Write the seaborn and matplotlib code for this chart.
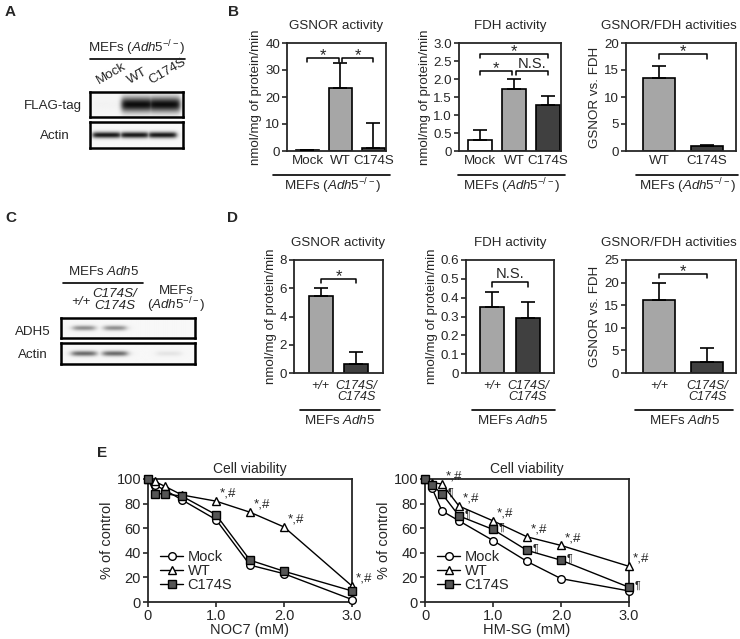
import numpy as np
import matplotlib
matplotlib.use("Agg")
import matplotlib.pyplot as plt
import seaborn as sns
from matplotlib.lines import Line2D

# ---------------- data ----------------
b_groups = ["Mock", "WT", "C174S"]
b_gsnor = [0.3, 23.5, 1.0]
b_gsnor_sd = [0.2, 9.0, 9.3]
b_fdh = [0.3, 1.73, 1.28]
b_fdh_sd = [0.27, 0.27, 0.24]
b_ratio_groups = ["WT", "C174S"]
b_ratio = [13.6, 1.0]
b_ratio_sd = [2.2, 0.1]

d_groups = ["+/+", "C174S/\nC174S"]
d_gsnor = [5.45, 0.65]
d_gsnor_sd = [0.55, 0.85]
d_fdh = [0.35, 0.29]
d_fdh_sd = [0.08, 0.085]
d_ratio = [16.1, 2.5]
d_ratio_sd = [3.9, 3.0]

e_dose = [0, 0.1, 0.25, 0.5, 1.0, 1.5, 2.0, 3.0]
noc7_mock = [100, 95, 91, 83, 67, 30, 23, 2]
noc7_wt = [100, 98, 94, 87, 82, 73, 61, 13]
noc7_c174s = [100, 88, 88, 86, 71, 34, 25, 9]
noc7_wt_sig = ["", "", "", "", "*,#", "*,#", "*,#", "*,#"]
noc7_c174s_sig = ["", "", "", "", "", "", "", ""]
hmsg_mock = [100, 93, 74, 66, 50, 33, 19, 9]
hmsg_wt = [100, 97, 96, 78, 66, 53, 46, 29]
hmsg_c174s = [100, 95, 88, 70, 59, 42, 34, 12]
hmsg_wt_sig = ["", "", "*,#", "*,#", "*,#", "*,#", "*,#", "*,#"]
hmsg_c174s_sig = ["", "", "¶", "¶", "¶", "¶", "¶", "¶"]

# western blot band intensities per lane
blot_a_flag = [0.02, 1.0, 1.0]
blot_a_actin = [0.95, 0.95, 0.95]
blot_c_adh5 = [0.45, 0.45, 0.0]
blot_c_actin = [0.6, 0.6, 0.08]

colors = {"Mock": "white", "WT": "#a6a6a6", "C174S": "#404040",
          "+/+": "#a6a6a6", "C174S/\nC174S": "#404040"}

sns.set_theme(style="ticks")
plt.rcParams["font.family"] = ["Liberation Sans", "DejaVu Sans"]
plt.rcParams["mathtext.fontset"] = "custom"
plt.rcParams["mathtext.rm"] = "Liberation Sans"
plt.rcParams["mathtext.it"] = "Liberation Sans:italic"
plt.rcParams["font.size"] = 9.6
plt.rcParams["axes.linewidth"] = 1.3

W, H = 740, 639
fig = plt.figure(figsize=(7.4, 6.39), dpi=100, facecolor="white")
FS = 9.6
KO = r"MEFs ($\it{Adh5}^{-/-}$)"
WTG = r"MEFs $\it{Adh5}$"


def rect(x0, y0, x1, y1):
    return [x0 / W, 1 - y1 / H, (x1 - x0) / W, (y1 - y0) / H]


def ftext(x, y, s, **kw):
    kw.setdefault("ha", "center")
    kw.setdefault("va", "center")
    kw.setdefault("fontsize", FS)
    fig.text(x / W, 1 - y / H, s, **kw)


def fline(x0, x1, y, lw=1.2):
    fig.add_artist(Line2D([x0 / W, x1 / W], [1 - y / H, 1 - y / H], color="black", lw=lw))


def bracket(ax, x1, x2, y, h, s, fs=12, dy=0):
    ax.plot([x1, x1, x2, x2], [y - h, y, y, y - h], color="black", lw=1.1, clip_on=False)
    ax.text((x1 + x2) / 2, y + dy, s, ha="center", va="bottom", fontsize=fs)


def bars(box, cats, vals, sd, ylim, yticks, ylabels, ylabel, title, width, xlim,
         italic=False, title_x=0.5):
    ax = fig.add_axes(rect(*box))
    sns.barplot(x=cats, y=vals, hue=cats, order=cats, hue_order=cats,
                palette=[colors[c] for c in cats], legend=False, width=width,
                edgecolor="black", linewidth=1.2, errorbar=None, ax=ax)
    ax.errorbar(range(len(cats)), vals, yerr=[np.zeros(len(vals)), sd], fmt="none",
                ecolor="black", elinewidth=1.2, capsize=5, capthick=1.2, zorder=3)
    ax.set_xlim(*xlim)
    ax.set_ylim(*ylim)
    ax.set_yticks(yticks)
    ax.set_yticklabels(ylabels, fontsize=FS)
    ax.tick_params(axis="x", length=0, pad=3, labelsize=FS)
    ax.tick_params(axis="y", length=3.5, width=1.2, pad=1.5)
    if italic:
        ax.tick_params(axis="x", pad=5)
        for t in ax.get_xticklabels():
            t.set_fontstyle("italic")
            t.set_fontsize(9)
            t.set_linespacing(0.9)
    ax.set_ylabel(ylabel, fontsize=FS, labelpad=2)
    ax.set_xlabel("")
    ax.set_title(title, fontsize=FS, pad=10, x=title_x)
    for s in ax.spines.values():
        s.set_linewidth(1.3)
    return ax


def blot(box, lanes, intens, half, sy, lw=1.8):
    ax = fig.add_axes(rect(*box))
    xs = np.linspace(0, 1, 300)
    ys = np.linspace(0, 1, 60)
    X, Y = np.meshgrid(xs, ys)
    img = np.zeros_like(X)
    for c, v in zip(lanes, intens):
        hor = 1 / (1 + np.exp(-(half - np.abs(X - c)) / 0.015))
        ver = np.exp(-((Y - 0.5) / sy) ** 2)
        img = np.maximum(img, v * hor * ver)
    img = np.clip(img, 0, 1) * 0.92 + 0.03
    ax.imshow(img, cmap="gray_r", vmin=0, vmax=1, aspect="auto", extent=[0, 1, 0, 1])
    ax.set_xticks([])
    ax.set_yticks([])
    for s in ax.spines.values():
        s.set_linewidth(lw)
        s.set_color("black")
    return ax


# ---------------- panel A ----------------
ftext(5, 12, "A", ha="left", fontsize=11, fontweight="bold")
ftext(137, 48, KO)
fline(90, 185, 59)
for x, lab in zip([100, 131, 153], b_groups):
    fig.text(x / W, 1 - 87 / H, lab, rotation=30, ha="left", va="bottom",
             rotation_mode="anchor", fontsize=FS)
blot((90, 92, 183, 117), [0.2, 0.51, 0.8], blot_a_flag, 0.17, 0.3)
blot((90, 122, 183, 148), [0.18, 0.48, 0.78], blot_a_actin, 0.15, 0.12)
ftext(82, 106, "FLAG-tag", ha="right")
ftext(55, 136, "Actin")

# ---------------- panel B ----------------
ftext(228, 12, "B", ha="left", fontsize=11, fontweight="bold")
ylab = "nmol/mg of protein/min"
ax = bars((287, 43, 386, 151), b_groups, b_gsnor, b_gsnor_sd, (0, 40), [0, 10, 20, 30, 40],
          ["0", "10", "20", "30", "40"], ylab, "GSNOR activity", 0.72, (-0.62, 2.38))
bracket(ax, 0, 0.95, 34.3, 1.5, "*", dy=-1.8)
bracket(ax, 1.05, 2, 34.3, 1.5, "*", dy=-1.8)
ax = bars((459, 43, 561, 151), b_groups, b_fdh, b_fdh_sd, (0, 3), [0, 0.5, 1, 1.5, 2, 2.5, 3],
          ["0", "0.5", "1.0", "1.5", "2.0", "2.5", "3.0"], ylab, "FDH activity", 0.72,
          (-0.62, 2.38))
bracket(ax, 0, 0.95, 2.22, 0.1, "*", dy=-0.13)
bracket(ax, 1.05, 2, 2.22, 0.1, "N.S.", fs=FS + 1)
bracket(ax, 0, 2, 2.69, 0.1, "*", dy=-0.13)
ax = bars((626, 43, 736, 151), b_ratio_groups, b_ratio, b_ratio_sd, (0, 20), [0, 5, 10, 15, 20],
          ["0", "5", "10", "15", "20"], "GSNOR vs. FDH", "GSNOR/FDH activities", 0.66,
          (-0.69, 1.6), title_x=0.39)
bracket(ax, 0, 1, 18.0, 0.9, "*", dy=-0.9)
for x0, x1, xc in [(273, 390, 333), (458, 565, 512), (636, 738, 688)]:
    fline(x0, x1, 175)
    ftext(xc, 186, KO)

# ---------------- panel C ----------------
ftext(5, 218, "C", ha="left", fontsize=11, fontweight="bold")
ftext(104, 272, WTG)
fline(63, 143, 283)
ftext(81, 302, "+/+", style="italic")
ftext(115, 300, "C174S/\nC174S", style="italic", linespacing=0.9)
ftext(176, 300, "MEFs\n" + r"($\it{Adh5}^{-/-}$)", linespacing=0.95)
blot((61, 318, 195, 338), [0.17, 0.4, 0.8], blot_c_adh5, 0.08, 0.13)
blot((61, 343, 195, 364), [0.17, 0.4, 0.8], blot_c_actin, 0.09, 0.13)
ftext(33, 332, "ADH5")
ftext(33, 355, "Actin")

# ---------------- panel D ----------------
ftext(227, 218, "D", ha="left", fontsize=11, fontweight="bold")
ax = bars((294, 260, 383, 373), d_groups, d_gsnor, d_gsnor_sd, (0, 8), [0, 2, 4, 6, 8],
          ["0", "2", "4", "6", "8"], ylab, "GSNOR activity", 0.67, (-0.75, 1.75), italic=True)
bracket(ax, 0, 1, 6.65, 0.3, "*", dy=-0.35)
ax = bars((466, 260, 554, 373), d_groups, d_fdh, d_fdh_sd, (0, 0.6),
          [0, 0.1, 0.2, 0.3, 0.4, 0.5, 0.6],
          ["0", "0.1", "0.2", "0.3", "0.4", "0.5", "0.6"], ylab, "FDH activity", 0.67,
          (-0.72, 1.73), italic=True)
bracket(ax, 0, 1, 0.483, 0.025, "N.S.", fs=FS + 1, dy=0.005)
ax = bars((626, 260, 736, 373), d_groups, d_ratio, d_ratio_sd, (0, 25), [0, 5, 10, 15, 20, 25],
          ["0", "5", "10", "15", "20", "25"], "GSNOR vs. FDH", "GSNOR/FDH activities", 0.66,
          (-0.69, 1.6), italic=True, title_x=0.39)
bracket(ax, 0, 1, 21.9, 0.9, "*", dy=-1.1)
for x0, x1, xc in [(300, 380, 340), (472, 555, 513), (635, 733, 685)]:
    fline(x0, x1, 410)
    ftext(xc, 420, WTG)

# ---------------- panel E ----------------
ftext(97, 453, "E", ha="left", fontsize=11, fontweight="bold")
EFS = 10.5


def viability(box, mock, wt, c174s, wt_sig, c_sig, xlabel):
    ax = fig.add_axes(rect(*box))
    kw = dict(color="black", linewidth=1.0, markersize=5.5, markeredgewidth=1.0,
              markeredgecolor="black", clip_on=False, ax=ax)
    sns.lineplot(x=e_dose, y=mock, marker="o", markerfacecolor="white", label="Mock", zorder=4, **kw)
    sns.lineplot(x=e_dose, y=wt, marker="^", markerfacecolor="white", label="WT", zorder=4, **kw)
    sns.lineplot(x=e_dose, y=c174s, marker="s", markerfacecolor="#555555", label="C174S", zorder=4, **kw)
    for x, y, s in zip(e_dose, wt, wt_sig):
        if s:
            ax.annotate(s, (x, y), xytext=(3, 1), textcoords="offset points",
                        fontsize=FS, ha="left", va="bottom", annotation_clip=False)
    for x, y, s in zip(e_dose, c174s, c_sig):
        if s:
            ax.annotate(s, (x, y), xytext=(4, 1), textcoords="offset points",
                        fontsize=FS - 2, ha="left", va="center", annotation_clip=False)
    ax.set_xlim(0, 3)
    ax.set_ylim(0, 100)
    ax.set_xticks([0, 1, 2, 3])
    ax.set_xticklabels(["0", "1.0", "2.0", "3.0"], fontsize=EFS)
    ax.set_yticks([0, 20, 40, 60, 80, 100])
    ax.set_yticklabels(["0", "20", "40", "60", "80", "100"], fontsize=EFS)
    ax.tick_params(length=3.5, width=1.2, pad=1.5)
    ax.set_xlabel(xlabel, fontsize=EFS, labelpad=0)
    ax.set_ylabel("% of control", fontsize=EFS, labelpad=2)
    ax.set_title("Cell viability", fontsize=10, pad=4)
    ax.legend(loc="lower left", bbox_to_anchor=(0.03, 0.03), frameon=False,
              handlelength=1.6, handletextpad=0.3, labelspacing=0.0, borderaxespad=0,
              fontsize=EFS)
    for s in ax.spines.values():
        s.set_linewidth(1.3)
    return ax


viability((148, 479, 352, 602), noc7_mock, noc7_wt, noc7_c174s, noc7_wt_sig, noc7_c174s_sig,
          "NOC7 (mM)")
viability((425, 479, 629, 602), hmsg_mock, hmsg_wt, hmsg_c174s, hmsg_wt_sig, hmsg_c174s_sig,
          "HM-SG (mM)")

fig.savefig("out.png", dpi=100, facecolor="white")
